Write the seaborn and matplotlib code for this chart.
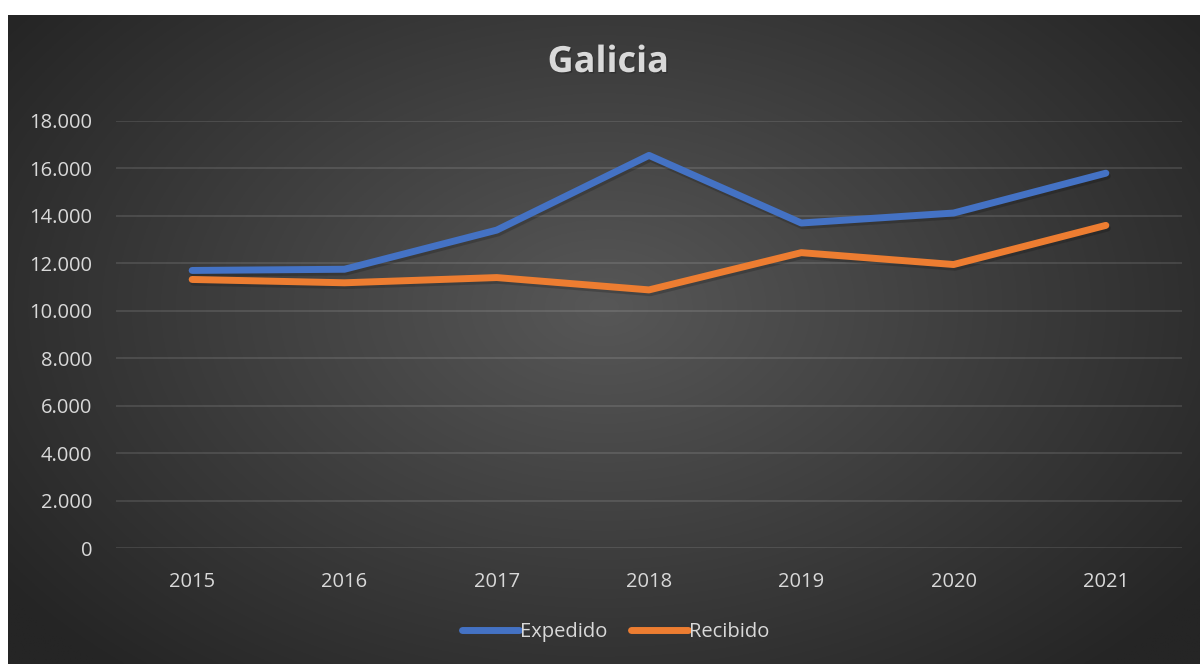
import numpy as np
import pandas as pd
import seaborn as sns
import matplotlib.pyplot as plt
import matplotlib.patheffects as pe
from matplotlib.lines import Line2D
from matplotlib.ticker import FuncFormatter

# data
years = ["2015", "2016", "2017", "2018", "2019", "2020", "2021"]
expedido = [11700, 11750, 13400, 16550, 13700, 14120, 15800]
recibido = [11320, 11180, 11400, 10880, 12450, 11950, 13600]

df = pd.DataFrame({
    "year": years * 2,
    "value": expedido + recibido,
    "serie": ["Expedido"] * len(years) + ["Recibido"] * len(years),
})

sns.set_theme(style="dark")
plt.rcParams["font.family"] = ["Open Sans", "DejaVu Sans"]
txt = "#d9d9d9"
lw = 5.0

fig = plt.figure(figsize=(12, 6.64), dpi=100, facecolor="white")

# radial gradient background of the chart area
bg = fig.add_axes([8 / 1200, 0, 1 - 8 / 1200, 1 - 15 / 664])
bg.set_axis_off()
yy, xx = np.mgrid[0:1:400j, 0:1:700j]
r = np.sqrt(((xx - 0.5) / 0.62) ** 2 + ((yy - 0.55) / 0.75) ** 2)
r = np.clip(r, 0, 1)
c0, c1 = np.array([0x57, 0x57, 0x57]) / 255, np.array([0x25, 0x25, 0x25]) / 255
img = c0 + (c1 - c0) * r[..., None]
bg.imshow(img, aspect="auto", extent=[0, 1, 0, 1], origin="lower")

ax = fig.add_axes([116 / 1200, 1 - 548 / 664, (1182 - 116) / 1200, (548 - 121) / 664])
ax.patch.set_alpha(0)

sns.lineplot(data=df, x="year", y="value", hue="serie",
             palette={"Expedido": "#4472C4", "Recibido": "#ED7D31"},
             linewidth=lw, ax=ax, legend=False, sort=False)
for ln in ax.lines:
    ln.set_solid_capstyle("round")
    ln.set_solid_joinstyle("round")
    ln.set_path_effects([pe.SimpleLineShadow(offset=(1, -2), alpha=0.18, shadow_color="black"),
                         pe.Normal()])

ax.set_ylim(0, 18000)
ax.set_yticks(range(0, 18001, 2000))
ax.set_xlim(-0.5, len(years) - 0.5)
ax.yaxis.set_major_formatter(FuncFormatter(lambda v, p: f"{int(v):,}".replace(",", ".")))
ax.grid(axis="y", color="white", alpha=0.12, linewidth=1.3)
ax.grid(axis="x", visible=False)
for s in ax.spines.values():
    s.set_visible(False)
ax.tick_params(axis="y", length=0, pad=17, labelsize=14.5, labelcolor=txt)
ax.tick_params(axis="x", length=0, pad=17, labelsize=14.5, labelcolor=txt)
ax.set_xlabel("")
ax.set_ylabel("")

fig.text(0.507, 1 - 63 / 664, "Galicia", ha="center", va="center", fontsize=26,
         fontweight="bold", color=txt,
         path_effects=[pe.withSimplePatchShadow(offset=(1, -1), alpha=0.2, shadow_rgbFace="black")])

handles = [Line2D([], [], color="#4472C4", linewidth=lw, solid_capstyle="round"),
           Line2D([], [], color="#ED7D31", linewidth=lw, solid_capstyle="round")]
leg = fig.legend(handles, ["Expedido", "Recibido"], loc="center",
                 bbox_to_anchor=(0.513, 1 - 632 / 664), ncol=2, frameon=False,
                 fontsize=14.5, handlelength=2.8, handletextpad=0.05, columnspacing=1.2)
for t in leg.get_texts():
    t.set_color(txt)

plt.savefig("out.png", dpi=100, facecolor="white")
